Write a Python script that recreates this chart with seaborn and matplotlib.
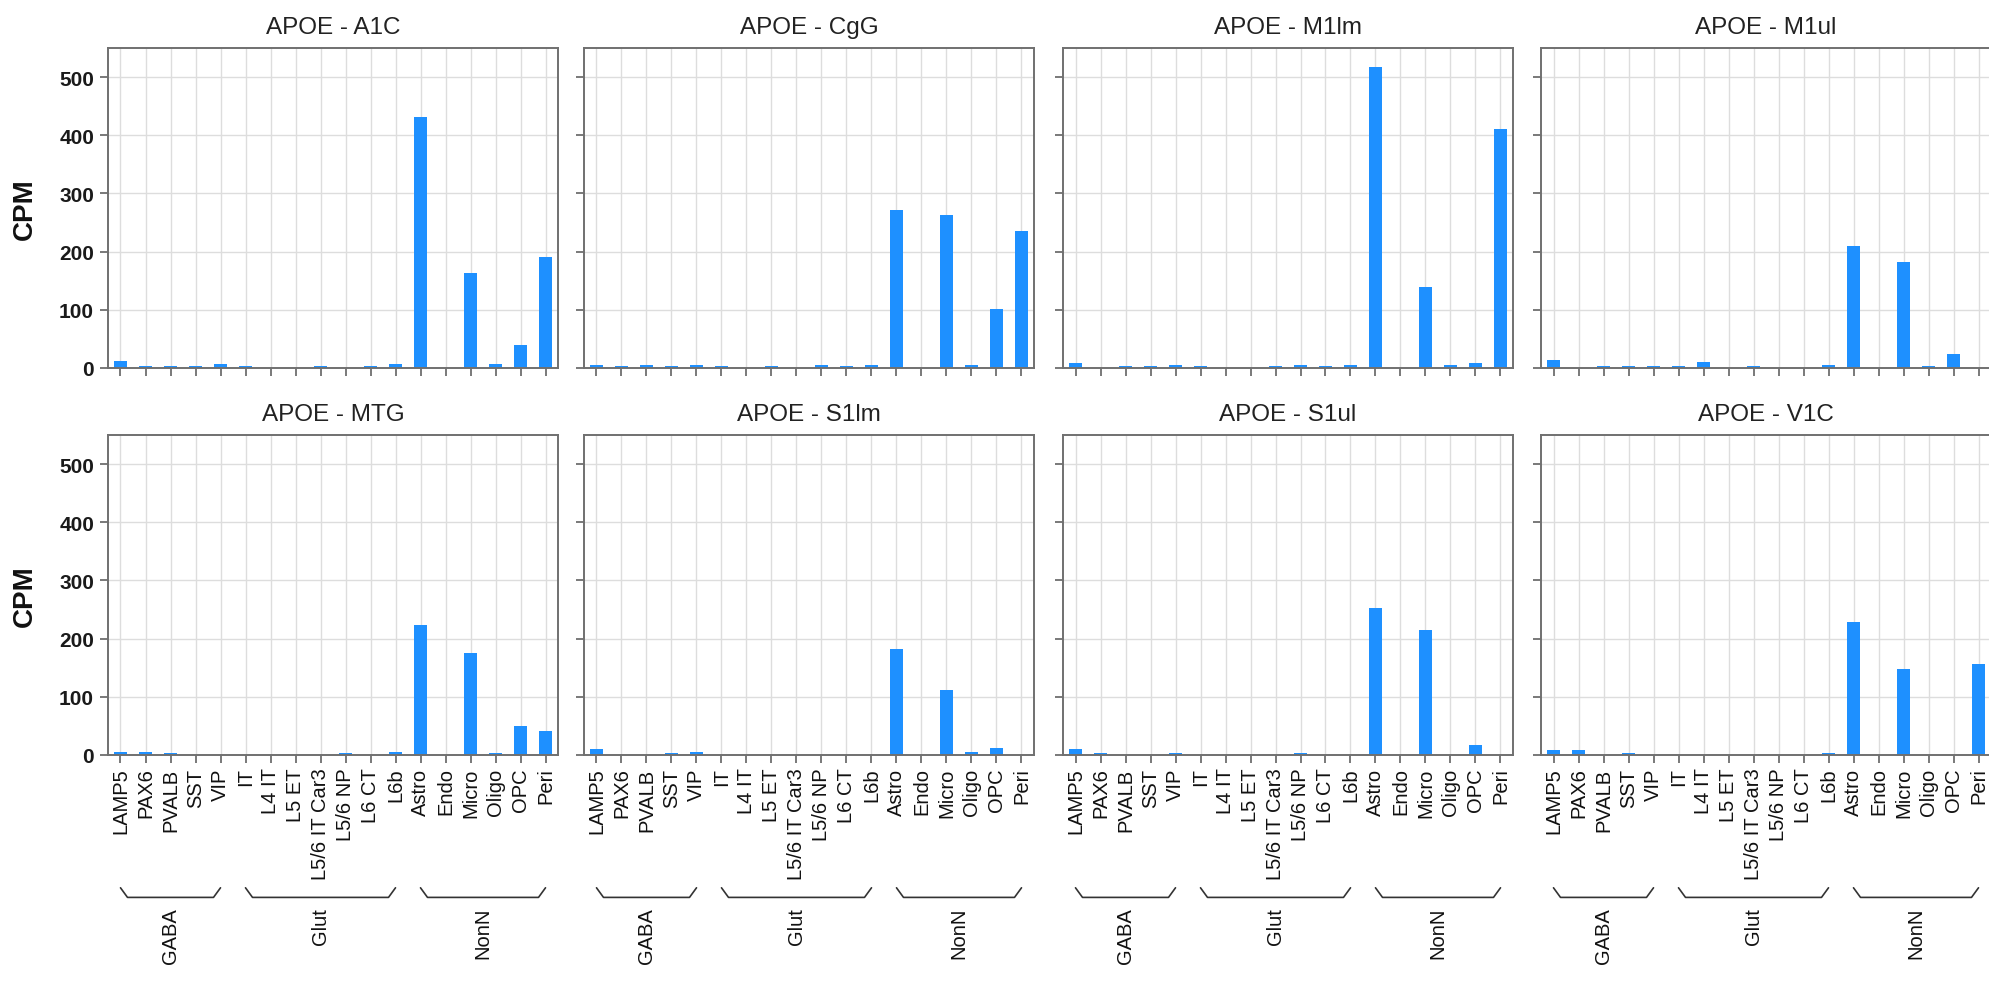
import numpy as np
import pandas as pd
import matplotlib
matplotlib.use("Agg")
import matplotlib.pyplot as plt
import seaborn as sns
from matplotlib.transforms import blended_transform_factory

# ---------------- data ----------------
gene = "APOE"
cell_types = ["LAMP5", "PAX6", "PVALB", "SST", "VIP",
              "IT", "L4 IT", "L5 ET", "L5/6 IT Car3", "L5/6 NP", "L6 CT", "L6b",
              "Astro", "Endo", "Micro", "Oligo", "OPC", "Peri"]
groups = ["GABA", "Glut", "NonN"]
group_sizes = [5, 7, 6]
regions = ["A1C", "CgG", "M1lm", "M1ul", "MTG", "S1lm", "S1ul", "V1C"]

a1c = [12, 4, 4, 4, 7, 4, 0, 0, 4, 0, 4, 7, 431, 0, 163, 7, 39, 191]
cgg = [6, 3, 6, 3, 6, 3, 0, 3, 0, 6, 3, 6, 272, 0, 263, 6, 102, 235]
m1lm = [8, 0, 3, 3, 5, 3, 0, 0, 3, 5, 3, 5, 517, 0, 140, 5, 8, 410]
m1ul = [13, 0, 3, 3, 3, 3, 10, 0, 3, 0, 0, 6, 209, 0, 182, 3, 24, 0]
mtg = [6, 6, 3, 0, 0, 0, 0, 0, 0, 3, 0, 6, 223, 0, 176, 3, 50, 41]
s1lm = [10, 0, 0, 3, 6, 0, 0, 0, 0, 0, 0, 0, 183, 0, 111, 6, 12, 0]
s1ul = [10, 3, 0, 0, 3, 0, 0, 0, 0, 3, 0, 0, 253, 0, 214, 0, 17, 0]
v1c = [8, 8, 0, 3, 0, 0, 0, 0, 0, 0, 0, 3, 229, 0, 148, 0, 0, 156]
values = [a1c, cgg, m1lm, m1ul, mtg, s1lm, s1ul, v1c]
y_ticks = [0, 100, 200, 300, 400, 500]

# ---------------- style ----------------
sns.set_theme(style="whitegrid")
plt.rcParams["font.family"] = ["Liberation Sans", "DejaVu Sans"]

BAR = "#1E90FF"
W, H = 1990, 1004
fig = plt.figure(figsize=(W / 100, H / 100), dpi=100)
fig.patch.set_facecolor("white")

col_left = [108, 584, 1063, 1541]
ax_w = 450
row_top = [49, 436]
ax_h = 320
XFS = 14.5

for i, (reg, vals) in enumerate(zip(regions, values)):
    r, c = divmod(i, 4)
    l, t = col_left[c], row_top[r]
    ax = fig.add_axes([l / W, 1 - (t + ax_h) / H, ax_w / W, ax_h / H])
    df = pd.DataFrame({"cell_type": cell_types, "cpm": vals})
    sns.barplot(data=df, x="cell_type", y="cpm", order=cell_types, color=BAR,
                saturation=1, width=0.55, linewidth=0, errorbar=None, ax=ax)
    ax.set_xlim(-0.5, len(cell_types) - 0.5)
    ax.set_ylim(0, 550)
    ax.set_yticks(y_ticks)
    ax.set_facecolor("white")
    ax.grid(True, axis="both", color="#dddddd", linewidth=1.0)
    ax.set_axisbelow(True)
    for sp in ax.spines.values():
        sp.set_visible(True)
        sp.set_color("#707070")
        sp.set_linewidth(1.4)
    ax.tick_params(axis="both", direction="out", length=6, width=1.1,
                   color="#555555", bottom=True, left=True)
    ax.tick_params(axis="x", pad=3, labelsize=XFS, labelcolor="#111111")
    ax.tick_params(axis="y", pad=4, labelsize=15, labelcolor="#1a1a1a")
    ax.set_xlabel("")
    ax.set_title(f"{gene} - {reg}", fontsize=17.5, pad=11, color="#222222")
    if c == 0:
        ax.set_ylabel("CPM", fontsize=20, fontweight="bold", color="#111111")
        ax.yaxis.set_label_coords(-0.155, 0.5)
        for lab in ax.get_yticklabels():
            lab.set_fontweight("bold")
    else:
        ax.set_ylabel("")
        ax.tick_params(axis="y", labelleft=False)
    if r == 0:
        ax.tick_params(axis="x", labelbottom=False)
    else:
        ax.set_xticks(range(len(cell_types)))
        ax.set_xticklabels(cell_types, rotation=90, fontsize=XFS)
        trans = blended_transform_factory(ax.transData, ax.transAxes)
        start = 0
        for g, n in zip(groups, group_sizes):
            s, e = start, start + n - 1
            y0, y1 = -0.415, -0.445
            ax.plot([s, s + 0.28, e - 0.28, e], [y0, y1, y1, y0],
                    transform=trans, clip_on=False, color="#333333", lw=1.2)
            ax.text((s + e) / 2, -0.475, g, rotation=90, ha="center", va="top",
                    transform=trans, fontsize=XFS, color="#111111")
            start += n

fig.savefig("out.png", dpi=100, facecolor="white")
